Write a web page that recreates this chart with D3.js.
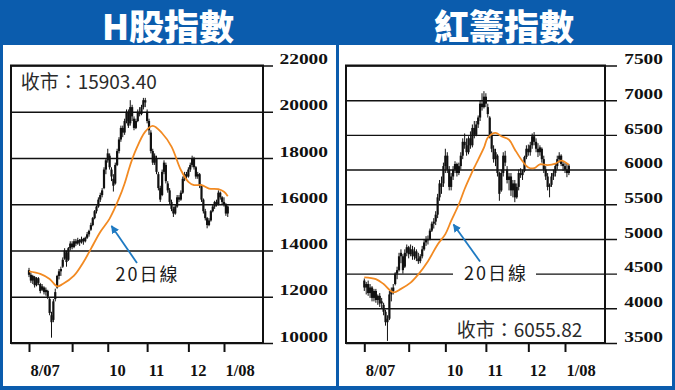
<!DOCTYPE html>
<html><head><meta charset="utf-8">
<script src="https://cdn.jsdelivr.net/npm/d3@7"></script>
<style>
html,body{margin:0;padding:0;background:#fff;}
svg{display:block;}
</style></head>
<body>
<svg id="c" width="675" height="390"></svg>
<script>
// ---------- DATA ----------
const titles = ["H股指數", "紅籌指數"];
const closeTexts = ["收市：15903.40", "收市：6055.82"];
const maLabel = "20日線";
const monthTickIdx = [0, 23, 42, 63, 85, 104];
const monthLabels = ["8/07", "", "10", "11", "12", "1/08"];
const hTicks = [10000, 12000, 14000, 16000, 18000, 20000, 22000];
const rTicks = [3500, 4000, 4500, 5000, 5500, 6000, 6500, 7000, 7500];

// H-share index daily [open, high, low, close]
const hOHLC = [
[13150,13250,12850,12950],[12950,13050,12600,12700],[12700,12950,12550,12900],[12850,12900,12400,12500],
[12500,12850,12450,12800],[12800,12850,12500,12600],[12550,12600,12150,12250],[12300,12550,12250,12450],
[12400,12450,12100,12200],[12200,12400,12050,12300],[12250,12300,11900,12000],[11900,11950,11200,11300],
[11200,11350,10230,10900],[11000,11900,10900,11800],[11900,12350,11800,12200],[12400,12950,12350,12900],
[12900,13200,12750,13100],[13100,13300,12900,13200],[13300,13700,13250,13600],[13650,14100,13600,14000],
[13900,14000,13300,13500],[13600,14150,13550,14100],[14100,14400,14000,14300],[14300,14400,14050,14150],
[14150,14500,14100,14400],[14400,14500,14200,14300],[14300,14550,14250,14450],[14450,14500,14200,14350],
[14350,14600,14300,14500],[14500,14550,14250,14400],[14400,14600,14350,14550],[14550,14800,14500,14700],
[14700,14900,14600,14850],[14900,15200,14850,15100],[15100,15450,15050,15400],[15400,15750,15350,15700],
[15700,15950,15600,15900],[15900,16300,15850,16200],[16200,16500,16100,16400],[16400,16700,16300,16600],
[16700,17600,16650,17500],[17500,18000,17300,17900],[17900,18400,17800,18200],[18100,18200,17500,17600],
[17500,17600,17000,17200],[17100,17300,16550,16800],[16900,17800,16850,17700],[17700,18400,17650,18300],
[18300,18900,18200,18800],[18800,19400,18700,19300],[19300,19400,18900,19100],[19100,19700,19000,19600],
[19600,20100,19500,20000],[20000,20100,19300,19400],[19500,20500,19400,20200],[20200,20300,19600,19800],
[19700,19800,19200,19300],[19300,19700,19250,19600],[19600,20100,19550,20000],[20000,20200,19800,19900],
[19900,20300,19850,20200],[20200,20600,20100,20500],[20500,20600,20200,20400],[20000,20100,19500,19600],
[19600,19700,19000,19200],[19100,19200,18200,18300],[18300,18400,17700,17800],[17800,18200,17700,18100],
[18000,18100,17300,17400],[17300,17400,16600,16700],[16700,16800,16100,16200],[16400,17500,16350,17400],
[17400,17900,17300,17800],[17700,17800,16900,17000],[16900,17000,16500,16600],[16600,16700,16000,16100],
[16100,16200,15700,15800],[15800,15900,15450,15600],[15600,16000,15550,15900],[15900,16400,15850,16300],
[16300,16400,16100,16200],[16200,16600,16150,16500],[16500,17200,16450,17100],[17100,17400,17000,17300],
[17300,17400,17100,17200],[17200,17600,17150,17500],[17500,17800,17400,17700],[17700,18100,17600,18000],
[18000,18050,17500,17600],[17600,17650,17100,17200],[17200,17400,17100,17300],[17300,17350,16700,16800],
[16800,16850,16100,16200],[16200,16250,15600,15700],[15700,15800,15300,15400],[15400,15450,14960,15100],
[15100,15400,15050,15300],[15300,15750,15250,15700],[15700,16000,15650,15900],[15900,16150,15800,16100],
[16100,16200,15900,16000],[16000,16600,15950,16500],[16500,16550,16200,16300],[16300,16350,16000,16100],
[16100,16300,15900,16000],[16000,16050,15500,15600],[15600,15950,15450,15903.4]
];
// H-share 20-day MA read at [day index, value]
const hMA = [[0,13100],[6,12990],[11,12770],[15,12450],[18,12550],[24,12910],[29,13490],[33,14070],
[38,14800],[43,15380],[48,16250],[51,16900],[54,17700],[57,18350],[62,19140],[66,19390],[71,19070],
[76,18490],[81,17480],[85,16970],[88,16830],[92,16830],[96,16680],[101,16650],[104,16540],[106,16350]];

// Red-chip index daily [open, high, low, close]
const rOHLC = [
[4400,4430,4250,4300],[4300,4380,4200,4350],[4350,4400,4180,4220],[4220,4350,4150,4300],
[4300,4320,4100,4150],[4150,4280,4100,4250],[4250,4280,4080,4120],[4120,4200,4050,4180],
[4180,4220,4020,4070],[4070,4150,4000,4100],[4050,4080,3900,3950],[3950,3980,3750,3800],
[3800,3900,3530,3850],[3850,4250,3830,4200],[4200,4300,4100,4250],[4250,4350,4200,4300],
[4350,4520,4330,4500],[4500,4600,4420,4550],[4550,4800,4530,4750],[4750,4850,4650,4800],
[4750,4780,4500,4550],[4600,4850,4580,4800],[4800,4920,4750,4880],[4880,4900,4720,4780],
[4780,4920,4750,4850],[4850,4900,4700,4750],[4750,4880,4700,4820],[4820,4850,4680,4720],
[4720,4800,4640,4680],[4680,4780,4650,4750],[4750,4900,4720,4850],[4850,5000,4830,4950],
[4950,5040,4900,5000],[5000,5050,4920,4980],[5000,5150,4980,5120],[5120,5250,5100,5220],
[5220,5300,5150,5250],[5250,5400,5200,5350],[5350,5650,5300,5600],[5600,5850,5550,5800],
[5800,5900,5650,5750],[5800,6100,5750,6050],[6050,6300,5950,6200],[6200,6250,5950,6000],
[6000,6050,5700,5750],[5750,5950,5700,5900],[5900,6050,5850,6000],[6000,6120,5950,6080],
[6080,6100,5900,5950],[5950,6100,5920,6050],[6050,6250,6000,6200],[6200,6450,6150,6400],
[6400,6520,6300,6350],[6350,6450,6200,6250],[6250,6480,6220,6450],[6450,6550,6300,6350],
[6350,6650,6320,6600],[6600,6700,6450,6500],[6500,6700,6480,6650],[6650,6780,6600,6750],
[6750,7000,6700,6950],[6950,7100,6850,6900],[6900,7130,6880,7050],[7050,7100,6900,6950],
[6900,6950,6750,6800],[6750,6770,6450,6500],[6500,6550,6250,6300],[6300,6350,6100,6150],
[6150,6300,6050,6250],[6200,6220,5900,5950],[5950,5970,5550,5650],[5700,6000,5680,5950],
[5950,6250,5900,6200],[6200,6270,6050,6100],[6000,6050,5800,5850],[5850,5950,5700,5900],
[5900,5950,5620,5700],[5700,5850,5600,5800],[5800,5850,5530,5600],[5600,5800,5580,5750],
[5750,6000,5700,5950],[5950,6020,5880,5920],[5920,6000,5850,5980],[5980,6200,5960,6180],
[6180,6350,6150,6300],[6300,6360,6200,6250],[6250,6400,6200,6350],[6350,6520,6300,6480],
[6480,6540,6350,6400],[6400,6450,6250,6300],[6300,6380,6180,6250],[6250,6350,6200,6320],
[6300,6320,6100,6150],[6150,6200,5950,6000],[6000,6050,5850,5900],[5900,5950,5700,5750],
[5750,5800,5600,5780],[5780,5950,5750,5900],[5900,6000,5850,5950],[5950,6080,5900,6050],
[6050,6200,6000,6150],[6150,6250,6100,6200],[6200,6220,6050,6080],[6080,6120,5980,6050],
[6050,6100,5950,6000],[6000,6080,5890,5950],[5950,6080,5920,6055.82]
];
const rMA = [[0,4445],[6,4420],[10,4350],[15,4230],[19,4280],[24,4370],[28,4490],[33,4680],[38,4920],
[42,5070],[45,5260],[49,5500],[52,5720],[55,5910],[57,6030],[62,6315],[64,6460],[68,6530],[71,6480],
[75,6430],[78,6290],[82,6120],[85,6030],[88,6020],[91,6075],[95,6065],[99,6085],[102,6130],[106,6070]];

// ---------- DRAW ----------
const svg = d3.select("#c");
const BLUE = "#0b5cad";
svg.append("rect").attr("width",675).attr("height",390).attr("fill","#fff");
svg.append("rect").attr("x",0).attr("y",0).attr("width",675).attr("height",45).attr("fill",BLUE);
[[0,3],[336,3],[672,3]].forEach(([x,w])=>svg.append("rect").attr("x",x).attr("y",0).attr("width",w).attr("height",390).attr("fill",BLUE));
svg.append("rect").attr("x",0).attr("y",386).attr("width",675).attr("height",4).attr("fill",BLUE);

const defs = svg.append("defs");
defs.append("marker").attr("id","ah").attr("viewBox","0 0 10 10").attr("refX",9).attr("refY",5)
  .attr("markerWidth",4.5).attr("markerHeight",4.5).attr("orient","auto-start-reverse").attr("markerUnits","strokeWidth")
  .append("path").attr("d","M0,0 L10,5 L0,10 z").attr("fill","#1f7ac2");

const panels = [
  {title:titles[0], tcx:168, ohlc:hOHLC, ma:hMA, ticks:hTicks, dom:[10000,22000],
   left:11, right:263, top:65.5, bottom:343, gridEnd:273, labelRight:328,
   xr:[29,224], closeX:20.7, closeY:89, closeTxt:closeTexts[0],
   lab:{x:115.5, y:281}, arrow:{x1:137,y1:263,x2:111.5,y2:226}, labelBg:false},
  {title:titles[1], tcx:504, ohlc:rOHLC, ma:rMA, ticks:rTicks, dom:[3500,7500],
   left:346, right:605, top:65.5, bottom:343, gridEnd:617, labelRight:663,
   xr:[364.3,565], closeX:456.7, closeY:337, closeTxt:closeTexts[1],
   lab:{x:464, y:279.5}, arrow:{x1:480,y1:261.5,x2:453.5,y2:224.5}, labelBg:true}
];

panels.forEach(p=>{
  // title
  svg.append("text").attr("x",p.tcx).attr("y",39.5).attr("text-anchor","middle")
    .attr("font-family","'Noto Sans CJK TC','Noto Sans CJK SC',sans-serif").attr("font-weight",900)
    .attr("font-size",35).attr("fill","#fff").text(p.title);

  const x = d3.scaleLinear().domain([monthTickIdx[0], monthTickIdx[monthTickIdx.length-1]]).range(p.xr);
  const y = d3.scaleLinear().domain(p.dom).range([p.bottom, p.top]);

  // gridlines + y labels via axis
  const ga = svg.append("g").attr("transform",`translate(${p.left},0)`)
    .call(d3.axisRight(y).tickValues(p.ticks).tickSize(p.gridEnd-p.left).tickFormat(d3.format("d")));
  ga.select(".domain").remove();
  ga.selectAll(".tick line").attr("stroke","#111").attr("stroke-width",1.4);
  ga.selectAll(".tick text").attr("x",p.labelRight-p.left).attr("dy","-0.12em").attr("text-anchor","end")
    .attr("font-family","'Liberation Serif','Times New Roman',serif").attr("font-weight","bold")
    .attr("font-size",15.5).attr("fill","#111")
    .attr("textLength",d=>String(d).length*9.7).attr("lengthAdjust","spacingAndGlyphs");

  // frame
  svg.append("rect").attr("x",p.left).attr("y",p.top).attr("width",p.right-p.left).attr("height",p.bottom-p.top)
    .attr("fill","none").attr("stroke","#111").attr("stroke-width",2);

  // x axis ticks & labels
  const gx = svg.append("g").attr("transform",`translate(0,${p.bottom})`)
    .call(d3.axisBottom(x).tickValues(monthTickIdx).tickSize(9).tickFormat((d,i)=>monthLabels[i]));
  gx.select(".domain").remove();
  gx.selectAll(".tick line").attr("stroke","#111").attr("stroke-width",2);
  gx.selectAll(".tick text").attr("y",33).attr("dy",0).attr("x",1).attr("text-anchor","start")
    .attr("font-family","'Liberation Serif','Times New Roman',serif").attr("font-weight","bold")
    .attr("font-size",16.5).attr("fill","#111");

  // label background + label
  if(p.labelBg){
    svg.append("rect").attr("x",p.lab.x-11).attr("y",p.lab.y-15).attr("width",83).attr("height",20).attr("fill","#fff");
  }

  // candles
  const cg = svg.append("g");
  cg.selectAll("line").data(p.ohlc).join("line")
    .attr("x1",(d,i)=>x(i)).attr("x2",(d,i)=>x(i))
    .attr("y1",d=>y(d[1])).attr("y2",d=>y(d[2]))
    .attr("stroke","#111").attr("stroke-width",1);
  cg.selectAll("rect").data(p.ohlc).join("rect")
    .attr("x",(d,i)=>x(i)-1.1).attr("width",2.2)
    .attr("y",d=>y(Math.max(d[0],d[3])))
    .attr("height",d=>Math.max(1.2, Math.abs(y(d[0])-y(d[3]))))
    .attr("fill","#111");

  // MA line
  svg.append("path").datum(p.ma)
    .attr("d",d3.line().x(d=>x(d[0])).y(d=>y(d[1])).curve(d3.curveCatmullRom.alpha(0.5)))
    .attr("fill","none").attr("stroke","#f28a22").attr("stroke-width",1.8);

  // close text
  svg.append("text").attr("x",p.closeX).attr("y",p.closeY)
    .attr("font-family","'Noto Sans CJK TC','Noto Sans CJK SC',sans-serif").attr("font-size",19)
    .attr("fill","#2a2a2a").text(p.closeTxt);

  // 20日線 label & arrow
  svg.append("text").attr("x",p.lab.x).attr("y",p.lab.y)
    .attr("font-family","'Noto Sans CJK TC','Noto Sans CJK SC',sans-serif").attr("font-size",18)
    .attr("letter-spacing",2).attr("fill","#1a1a1a").text(maLabel);
  svg.append("line").attr("x1",p.arrow.x1).attr("y1",p.arrow.y1).attr("x2",p.arrow.x2).attr("y2",p.arrow.y2)
    .attr("stroke","#1f7ac2").attr("stroke-width",1.8).attr("marker-end","url(#ah)");
});
</script>
</body></html>
